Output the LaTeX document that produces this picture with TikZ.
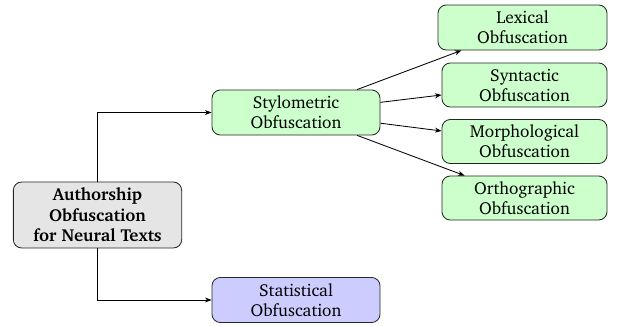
\documentclass[tikz,border=0pt]{standalone}
\usepackage[T1]{fontenc}
\usepackage{charter}
\usetikzlibrary{arrows.meta}
\tikzset{
  box/.style={draw=black!85, rounded corners=5pt, align=center, inner sep=0pt, line width=0.5pt, font=\fontsize{10.4}{12}\selectfont},
  rootbox/.style={box, fill=black!10, font=\fontsize{10.4}{12.3}\selectfont\bfseries},
  greenbox/.style={box, fill=green!20},
  bluebox/.style={box, fill=blue!20},
  conn/.style={-{Stealth[length=4pt,width=3pt]}, line width=0.5pt}
}
\begin{document}
\begin{tikzpicture}[x=0.6pt, y=-0.6pt]
\useasboundingbox (0,0) rectangle (623,327);
\node[rootbox, minimum width=101pt, minimum height=39.6pt] (root) at (97.5,215) {Authorship\\Obfuscation\\for Neural Texts};
\node[greenbox, minimum width=100.8pt, minimum height=27pt] (sty) at (296,112.5) {Stylometric\\Obfuscation};
\node[bluebox, minimum width=100.8pt, minimum height=27pt] (stat) at (296,300) {Statistical\\Obfuscation};
\node[greenbox, minimum width=101.4pt, minimum height=27pt] (lex) at (522.5,27.5) {Lexical\\Obfuscation};
\node[greenbox, minimum width=99pt, minimum height=26.4pt] (syn) at (524.5,85) {Syntactic\\Obfuscation};
\node[greenbox, minimum width=99pt, minimum height=26.4pt] (mor) at (524.5,141.5) {Morphological\\Obfuscation};
\node[greenbox, minimum width=99pt, minimum height=26.4pt] (ort) at (524.5,198) {Orthographic\\Obfuscation};
\draw[conn] (root.north) |- (sty.west);
\draw[conn] (root.south) |- (stat.west);
\draw[conn] (sty) -- (lex);
\draw[conn] (sty) -- (syn);
\draw[conn] (sty) -- (mor);
\draw[conn] (sty) -- (ort);
\end{tikzpicture}
\end{document}
